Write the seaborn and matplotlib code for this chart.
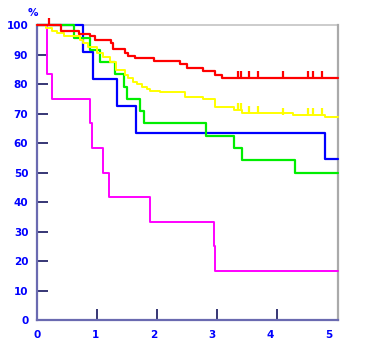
import matplotlib
matplotlib.use("Agg")
import matplotlib.pyplot as plt
import seaborn as sns
import pandas as pd
import numpy as np

sns.set_style("white")
plt.rcParams['font.family'] = ['DejaVu Sans']

# ---- data (time in years, survival %) ----
x_max = 5.15
y_ticks = [0, 10, 20, 30, 40, 50, 60, 70, 80, 90, 100]
x_ticks = [0, 1, 2, 3, 4, 5]

red_t = [0, 0.42, 0.72, 0.91, 1.00, 1.28, 1.31, 1.51, 1.57, 1.68, 2.00, 2.45, 2.57, 2.85, 3.05, 3.17, 5.15]
red_s = [100, 97.9, 97.0, 96.4, 95.0, 93.9, 91.9, 90.5, 89.6, 88.8, 88.0, 86.8, 85.4, 84.5, 83.1, 82.0, 82.0]

yellow_t = [0, 0.16, 0.26, 0.35, 0.46, 0.74, 0.80, 0.88, 1.03, 1.14, 1.26, 1.36, 1.51, 1.57, 1.65,
            1.71, 1.80, 1.88, 1.94, 2.11, 2.54, 2.85, 3.05, 3.37, 3.51, 4.39, 4.94, 5.15]
yellow_s = [100, 99.0, 98.1, 97.3, 96.5, 95.0, 93.9, 92.7, 90.5, 89.3, 87.6, 84.8, 83.1, 82.0, 80.9,
            80.1, 79.2, 78.4, 77.8, 77.3, 75.8, 74.9, 72.4, 71.3, 70.3, 69.6, 68.8, 68.8]

green_t = [0, 0.63, 0.91, 1.08, 1.34, 1.50, 1.54, 1.77, 1.83, 2.89, 3.38, 3.51, 4.42, 5.15]
green_s = [100, 95.8, 91.7, 87.5, 83.3, 79.2, 75.0, 70.8, 66.7, 62.5, 58.3, 54.2, 50.0, 50.0]

blue_t = [0, 0.79, 0.97, 1.37, 1.70, 4.94, 5.15]
blue_s = [100, 90.9, 81.8, 72.7, 63.6, 54.5, 54.5]

magenta_t = [0, 0.17, 0.26, 0.92, 0.94, 1.13, 1.24, 1.94, 3.04, 3.05, 5.15]
magenta_s = [100, 83.3, 75.0, 66.7, 58.3, 50.0, 41.7, 33.3, 25.0, 16.7, 16.7]

# censored observations
red_cens_t = [0.21, 3.44, 3.50, 3.64, 3.78, 4.21, 4.65, 4.72, 4.88]
red_cens_s = [100, 82.0, 82.0, 82.0, 82.0, 82.0, 82.0, 82.0, 82.0]
yellow_cens_t = [3.44, 3.50, 3.64, 3.78, 4.21, 4.65, 4.72, 4.88]
yellow_cens_s = [71.3, 71.3, 70.3, 70.3, 69.6, 69.6, 69.6, 69.6]

groups = [
    ("blue", blue_t, blue_s, "#0000ff", 1.6),
    ("green", green_t, green_s, "#00ee00", 1.6),
    ("magenta", magenta_t, magenta_s, "#ff00ff", 1.4),
    ("yellow", yellow_t, yellow_s, "#ffff00", 1.4),
    ("red", red_t, red_s, "#ff0000", 1.6),
]

fig = plt.figure(figsize=(3.65, 3.61), dpi=100)
ax = fig.add_axes([0.1005, 0.1136, 0.8247, 0.8164])

for name, t, s, col, lw in groups:
    df = pd.DataFrame({"t": t, "s": s})
    sns.lineplot(data=df, x="t", y="s", ax=ax, color=col, lw=lw,
                 drawstyle="steps-post", estimator=None, sort=False,
                 clip_on=False, zorder=3)

ax.vlines(yellow_cens_t, yellow_cens_s, np.array(yellow_cens_s) + 2.4,
          color="#ffff00", lw=1.6, zorder=4, clip_on=False)
ax.vlines(red_cens_t, red_cens_s, np.array(red_cens_s) + 2.4,
          color="#ff0000", lw=1.6, zorder=5, clip_on=False)

ax.set_xlim(0, x_max)
ax.set_ylim(0, 100)
ax.set_xlabel("")
ax.set_ylabel("")

ax.set_yticks(y_ticks)
ax.set_yticklabels([str(v) for v in y_ticks])
ax.set_xticks(x_ticks)
ax.set_xticklabels([str(v) for v in x_ticks])
ax.set_xticks([x_max * k / 5 for k in range(1, 6)], minor=True)

lab_font = dict(fontsize=7.5, fontweight="bold", color="#0000ff")
for lab in ax.get_yticklabels() + ax.get_xticklabels():
    lab.set_fontsize(7.5)
    lab.set_fontweight("bold")
    lab.set_color("#0000ff")

ax.tick_params(axis="y", which="major", direction="in", length=8, width=1.1,
               color="#000050", pad=6, left=True)
ax.tick_params(axis="x", which="major", length=0, pad=7, bottom=True)
ax.tick_params(axis="x", which="minor", direction="in", length=8, width=1.1,
               color="#000050", bottom=True)

for side in ["left", "bottom"]:
    ax.spines[side].set_color("#6a6ab0")
    ax.spines[side].set_linewidth(1.6)
ax.spines["top"].set_color("#cccccc")
ax.spines["top"].set_linewidth(1.4)
ax.spines["right"].set_color("#aaaaaa")
ax.spines["right"].set_linewidth(1.6)
ax.spines["top"].set_zorder(1)

fig.text(33 / 365, 1 - 13 / 361, "%", ha="center", va="center", **lab_font)

fig.savefig("out.png", dpi=100)
